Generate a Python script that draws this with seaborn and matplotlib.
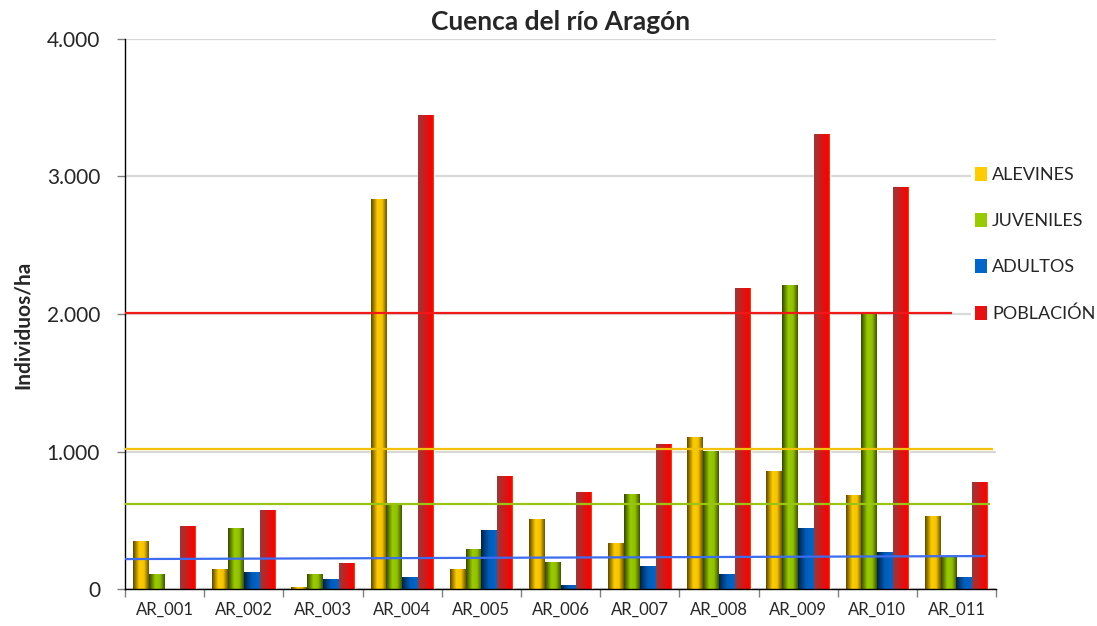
import matplotlib
matplotlib.use("Agg")
import matplotlib.pyplot as plt
import numpy as np
import pandas as pd
import seaborn as sns
from matplotlib.colors import LinearSegmentedColormap
from matplotlib.patches import Patch
from matplotlib.ticker import FuncFormatter, FixedLocator

# data (individuos/ha)
estaciones = ["AR_001", "AR_002", "AR_003", "AR_004", "AR_005", "AR_006",
              "AR_007", "AR_008", "AR_009", "AR_010", "AR_011"]
alevines = [349, 145, 12, 2836, 145, 509, 335, 1105, 858, 684, 531]
juveniles = [109, 444, 109, 611, 291, 196, 691, 1006, 2211, 2000, 235]
adultos = [0, 124, 73, 87, 429, 29, 167, 109, 444, 269, 87]
poblacion = [458, 575, 189, 3447, 822, 705, 1055, 2189, 3309, 2924, 778]
clases = ["ALEVINES", "JUVENILES", "ADULTOS", "POBLACIÓN"]

# reference lines: (start value, end value, end position, colour)
ref_poblacion = (2010, 2010, 9.94, "#f01818")
ref_alevines = (1020, 1020, 10.46, "#f2c20a")
ref_juveniles = (618, 618, 10.42, "#99c414")
ref_adultos = (218, 240, 10.37, "#3c6cf0")

df = pd.DataFrame({
    "estacion": estaciones * 4,
    "clase": np.repeat(clases, len(estaciones)),
    "valor": alevines + juveniles + adultos + poblacion,
})

# gradient stops per series (left -> right across a bar)
gradientes = {
    "ALEVINES": [(0, "#5e4800"), (0.4, "#ffcc00"), (0.7, "#f5c400"), (1, "#6e5400")],
    "JUVENILES": [(0, "#344800"), (0.4, "#99cc00"), (0.7, "#90c000"), (1, "#3e5600")],
    "ADULTOS": [(0, "#00224a"), (0.5, "#005cb8"), (1, "#0066cc")],
    "POBLACIÓN": [(0, "#9a3838"), (0.6, "#e01212"), (0.92, "#ff0000"), (1, "#ff5000")],
}
colores = {"ALEVINES": "#ffcc00", "JUVENILES": "#99cc00",
           "ADULTOS": "#0066cc", "POBLACIÓN": "#e81010"}

sns.set_style("white")
plt.rcParams["font.family"] = ["Lato", "DejaVu Sans"]

fig = plt.figure(figsize=(10.97, 6.26), dpi=100)
ax = fig.add_axes([0.114, 0.059, 0.794, 0.879])

sns.barplot(data=df, x="estacion", y="valor", hue="clase", hue_order=clases,
            palette=colores, width=0.8, saturation=1, ax=ax, legend=False,
            errorbar=None)

# paint each bar with a horizontal gradient, clipped to the bar
for cont, clase in zip(ax.containers, clases):
    cmap = LinearSegmentedColormap.from_list(clase, gradientes[clase])
    grad = np.linspace(0, 1, 64).reshape(1, -1)
    for bar in cont:
        h = bar.get_height()
        if h <= 0:
            continue
        x0 = bar.get_x()
        w = bar.get_width()
        im = ax.imshow(grad, cmap=cmap, extent=[x0, x0 + w, 0, h],
                       aspect="auto", zorder=bar.get_zorder() + 0.1,
                       interpolation="bilinear")
        im.set_clip_path(bar)

ax.set_ylim(0, 4000)
ax.set_xlim(-0.5, len(estaciones) - 0.5)

# reference lines
for y0, y1, xend, col in [ref_alevines, ref_poblacion, ref_juveniles, ref_adultos]:
    ax.plot([-0.5, xend], [y0, y1], color=col, lw=1.6, zorder=5, solid_capstyle="butt")

# grid and axes styling
ax.set_yticks([0, 1000, 2000, 3000, 4000])
ax.yaxis.set_major_formatter(FuncFormatter(lambda v, p: f"{int(v):,}".replace(",", ".")))
ax.yaxis.grid(True, color="#d9d9d9", lw=1.6, zorder=0)
ax.set_axisbelow(True)
for s in ["top", "right"]:
    ax.spines[s].set_visible(False)
for s in ["left", "bottom"]:
    ax.spines[s].set_color("black")
    ax.spines[s].set_linewidth(1.0)
ax.tick_params(axis="y", direction="out", length=6, width=1, color="#808080",
               labelsize=15, pad=12, left=True)

# category boundaries as major ticks, labels at centres
ax.xaxis.set_major_locator(FixedLocator(np.arange(-0.5, len(estaciones), 1)))
ax.xaxis.set_major_formatter(FuncFormatter(lambda v, p: ""))
ax.xaxis.set_minor_locator(FixedLocator(np.arange(len(estaciones))))
ax.set_xticklabels(estaciones, minor=True, fontsize=12)
ax.tick_params(axis="x", which="major", direction="out", length=6, width=1,
               color="#808080", bottom=True)
ax.tick_params(axis="x", which="minor", length=0, pad=9)

ax.set_xlabel("")
ax.set_ylabel("Individuos/ha", fontsize=15, fontweight="bold", labelpad=10)
ax.yaxis.set_label_coords(-0.106, 0.48)
ax.set_title("Cuenca del río Aragón", fontsize=19, fontweight="bold", pad=6)

handles = [Patch(facecolor=colores[c], edgecolor="none") for c in clases]
leg = fig.legend(handles, clases, loc="upper left", bbox_to_anchor=(0.8855, 0.739),
                 frameon=True, facecolor="white", edgecolor="none", framealpha=1,
                 prop={"size": 13}, handlelength=0.65, handleheight=0.8,
                 handletextpad=0.3, labelspacing=1.66, borderpad=0.2, borderaxespad=0)

fig.savefig("out.png", dpi=100)
